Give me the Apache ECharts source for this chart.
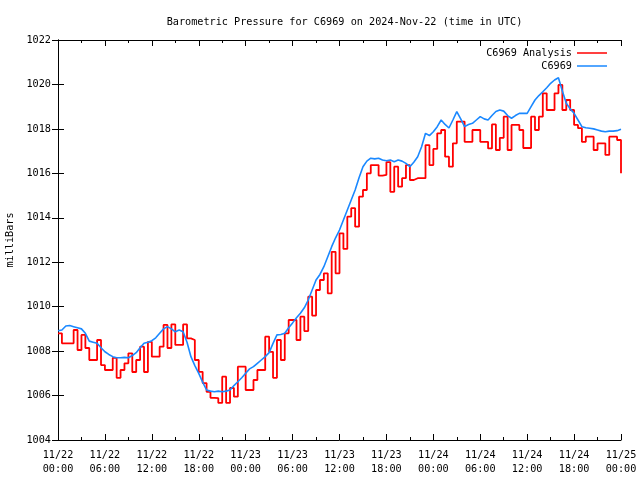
<!DOCTYPE html>
<html><head><meta charset="utf-8">
<script src="https://cdn.jsdelivr.net/npm/echarts@6/dist/echarts.min.js"></script>
<style>html,body{margin:0;padding:0;background:#fff}#c{width:640px;height:480px}</style>
</head><body><div id="c"></div>
<script>
const title = 'Barometric Pressure for C6969 on 2024-Nov-22 (time in UTC)';
const yLabel = 'milliBars';
const seriesNames = ['C6969 Analysis', 'C6969'];
const stepHours = 0.5; // samples every 30 min from 11/22 00:00 UTC
const xTickLabels = ['11/22\n00:00','11/22\n06:00','11/22\n12:00','11/22\n18:00','11/23\n00:00','11/23\n06:00','11/23\n12:00','11/23\n18:00','11/24\n00:00','11/24\n06:00','11/24\n12:00','11/24\n18:00','11/25\n00:00'];

const analysis = [
1008.8,1008.35,1008.35,1008.35,1008.95,1008.05,1008.73,1008.14,1007.6,1007.6,
1008.5,1007.37,1007.15,1007.15,1007.7,1006.8,1007.15,1007.45,1007.9,1007.06,
1007.6,1008.2,1007.06,1008.42,1007.75,1007.75,1008.2,1009.18,1008.14,1009.2,
1008.28,1008.28,1009.2,1008.57,1008.5,1007.6,1007.07,1006.56,1006.17,1005.9,
1005.88,1005.67,1006.85,1005.67,1006.34,1005.95,1007.3,1007.3,1006.25,1006.25,
1006.7,1007.15,1007.15,1008.65,1007.97,1006.8,1008.5,1007.6,1008.8,1009.4,
1009.4,1008.5,1009.55,1008.9,1010.45,1009.6,1010.75,1011.2,1011.5,1010.6,
1012.47,1011.5,1013.3,1012.6,1014.05,1014.43,1013.6,1014.95,1015.25,1016.0,
1016.37,1016.37,1015.9,1015.93,1016.5,1015.17,1016.3,1015.4,1015.78,1016.37,
1015.7,1015.78,1015.78,1015.78,1017.27,1016.37,1017.1,1017.8,1017.95,1016.75,
1016.3,1017.35,1018.33,1018.33,1017.42,1017.42,1017.95,1017.95,1017.42,1017.42,
1017.12,1018.2,1017.05,1017.6,1018.55,1017.05,1018.18,1018.18,1017.95,1017.14,
1017.14,1018.55,1017.95,1018.55,1019.6,1018.85,1018.85,1019.6,1019.98,1018.85,
1019.3,1018.85,1018.18,1018.03,1017.42,1017.65,1017.65,1017.05,1017.35,1017.35,
1016.83,1017.65,1017.65,1017.5,1016.0
];

const observed = [
1008.92,1008.95,1009.13,1009.15,1009.1,1009.05,1009.0,1008.8,1008.45,1008.4,
1008.35,1008.15,1007.97,1007.85,1007.75,1007.7,1007.7,1007.72,1007.7,1007.8,
1007.93,1008.15,1008.35,1008.4,1008.47,1008.6,1008.8,1009.0,1009.1,1009.0,
1008.87,1008.95,1008.87,1008.4,1007.75,1007.35,1007.0,1006.6,1006.25,1006.2,
1006.17,1006.2,1006.17,1006.2,1006.25,1006.45,1006.62,1006.8,1007.0,1007.2,
1007.3,1007.45,1007.6,1007.75,1007.93,1008.35,1008.73,1008.75,1008.8,1009.05,
1009.27,1009.5,1009.7,1009.95,1010.3,1010.75,1011.2,1011.45,1011.8,1012.25,
1012.7,1013.1,1013.45,1013.9,1014.35,1014.8,1015.25,1015.8,1016.3,1016.55,
1016.68,1016.65,1016.68,1016.6,1016.57,1016.6,1016.52,1016.6,1016.55,1016.45,
1016.3,1016.5,1016.75,1017.2,1017.8,1017.7,1017.87,1018.1,1018.4,1018.2,
1018.04,1018.4,1018.78,1018.45,1018.1,1018.2,1018.25,1018.4,1018.55,1018.45,
1018.4,1018.6,1018.78,1018.85,1018.8,1018.6,1018.48,1018.6,1018.7,1018.7,
1018.7,1019.0,1019.3,1019.5,1019.67,1019.85,1020.05,1020.2,1020.3,1019.7,
1019.15,1018.9,1018.7,1018.4,1018.1,1018.05,1018.03,1018.0,1017.95,1017.9,
1017.87,1017.9,1017.9,1017.92,1017.98
];

const font = '"DejaVu Sans Mono", "Liberation Mono", monospace';
const fs = 10.2;
const toPairs = arr => arr.map((v, i) => [i * stepHours, v]);

const chart = echarts.init(document.getElementById('c'), null, {renderer: 'canvas'});
const axisCommon = {
  min: 0, max: 72, interval: 6,
  axisLine: {show: true, lineStyle: {color: '#000', width: 1}},
  axisTick: {show: true, inside: true, length: 6, lineStyle: {color: '#000'}},
  minorTick: {show: true, splitNumber: 2, length: 3, lineStyle: {color: '#000'}},
  splitLine: {show: false}
};
const yCommon = {
  min: 1004, max: 1022, interval: 2,
  axisLine: {show: true, lineStyle: {color: '#000', width: 1}},
  axisTick: {show: true, inside: true, length: 6, lineStyle: {color: '#000'}},
  splitLine: {show: false}
};
chart.setOption({
  animation: false,
  backgroundColor: '#fff',
  title: {text: title, left: 339.5, textAlign: 'center', top: 12,
    textStyle: {fontFamily: font, fontSize: fs, fontWeight: 'normal', color: '#000'}},
  grid: {left: 58, right: 19, top: 40, bottom: 40, containLabel: false, outerBoundsMode: 'none'},
  legend: [
    {data: [seriesNames[0]], right: 28, top: 43, align: 'right', icon: 'rect', itemWidth: 30, itemHeight: 1.5, itemGap: 6,
      textStyle: {fontFamily: font, fontSize: fs, color: '#000'}},
    {data: [seriesNames[1]], right: 28, top: 56, align: 'right', icon: 'rect', itemWidth: 30, itemHeight: 1.5, itemGap: 6,
      textStyle: {fontFamily: font, fontSize: fs, color: '#000'}}
  ],
  xAxis: [
    Object.assign({type: 'value', position: 'bottom',
      axisLabel: {show: true, margin: 8, fontFamily: font, fontSize: fs, color: '#000', lineHeight: 14,
        formatter: v => xTickLabels[Math.round(v / 6)] || ''}}, axisCommon),
    Object.assign({type: 'value', position: 'top', axisLabel: {show: false}}, axisCommon)
  ],
  yAxis: [
    Object.assign({type: 'value', position: 'left', name: yLabel, nameLocation: 'middle', nameGap: 43, nameRotate: 90,
      nameTextStyle: {fontFamily: font, fontSize: fs, color: '#000'},
      axisLabel: {show: true, margin: 7, fontFamily: font, fontSize: fs, color: '#000', formatter: v => String(v)}}, yCommon),
    Object.assign({type: 'value', position: 'right', axisLabel: {show: false}}, yCommon)
  ],
  series: [
    {name: seriesNames[0], type: 'line', step: 'end', data: toPairs(analysis), showSymbol: false,
      lineStyle: {color: '#ff0000', width: 1.8}, itemStyle: {color: '#ff0000'}},
    {name: seriesNames[1], type: 'line', data: toPairs(observed), showSymbol: false,
      lineStyle: {color: '#1a88ff', width: 1.6}, itemStyle: {color: '#1a88ff'}}
  ]
});
</script></body></html>
